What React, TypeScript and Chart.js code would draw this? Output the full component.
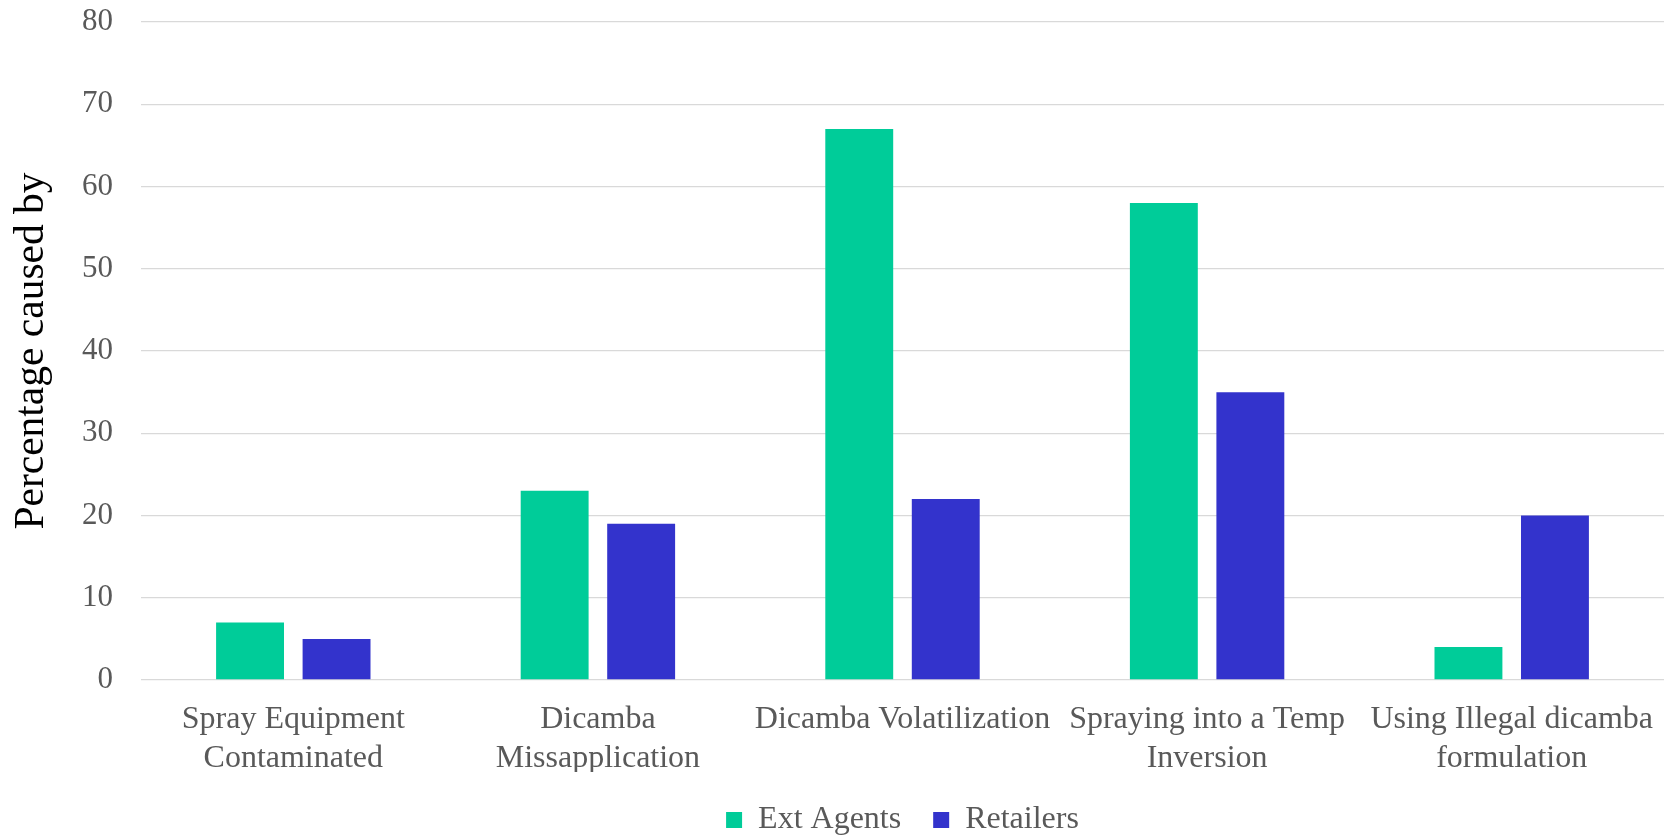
import React, { useEffect, useRef } from "react";
import { Chart, registerables } from "chart.js";

Chart.register(...registerables);

const categories: (string | string[])[] = [
  ["Spray Equipment", "Contaminated"],
  ["Dicamba", "Missapplication"],
  "Dicamba Volatilization",
  ["Spraying into a Temp", "Inversion"],
  ["Using Illegal dicamba", "formulation"],
];
const extAgents = [7, 23, 67, 58, 4];
const retailers = [5, 19, 22, 35, 20];
const seriesNames = ["Ext Agents", "Retailers"];
const seriesColors = ["#00CC99", "#3333CC"];
const yMin = 0;
const yMax = 80;
const yStep = 10;
const yTitle = "Percentage caused by";

export default function App() {
  const ref = useRef<HTMLCanvasElement | null>(null);

  useEffect(() => {
    document.body.style.margin = "0";
    const canvas = ref.current;
    if (!canvas) return;
    const family = "'Liberation Serif', 'Times New Roman', serif";
    const chart = new Chart(canvas, {
      type: "bar",
      data: {
        labels: categories,
        datasets: [
          {
            label: seriesNames[0],
            data: extAgents,
            backgroundColor: seriesColors[0],
            borderWidth: 0,
          },
          {
            label: seriesNames[1],
            data: retailers,
            backgroundColor: seriesColors[1],
            borderWidth: 0,
          },
        ],
      },
      options: {
        animation: false,
        responsive: false,
        maintainAspectRatio: false,
        layout: { padding: { top: 22, left: 0, right: 0, bottom: -10 } },
        datasets: {
          bar: { categoryPercentage: 0.568, barPercentage: 0.785 },
        },
        plugins: {
          tooltip: { enabled: false },
          legend: {
            position: "bottom",
            fullSize: false,
            labels: {
              boxWidth: 16,
              boxHeight: 16,
              padding: 32,
              color: "#595959",
              font: { family, size: 32 },
            },
          },
        },
        scales: {
          x: {
            grid: { display: false },
            border: { display: false },
            afterFit: (scale: any) => {
              scale.height = 92;
              scale.paddingLeft = 0;
              scale.paddingRight = 0;
            },
            ticks: {
              color: "#595959",
              font: { family, size: 32, lineHeight: 1.19 },
              padding: 13,
              maxRotation: 0,
              minRotation: 0,
              autoSkip: false,
            },
          },
          y: {
            min: yMin,
            max: yMax,
            afterFit: (scale: any) => {
              scale.width = 141;
              scale.paddingTop = 0;
              scale.paddingBottom = 0;
            },
            grid: { color: "#D9D9D9", lineWidth: 1.3, drawTicks: false },
            border: { display: false },
            ticks: {
              stepSize: yStep,
              color: "#595959",
              font: { family, size: 31 },
              padding: 28,
            },
            title: {
              display: true,
              text: yTitle,
              color: "#000000",
              font: { family, size: 41.5 },
              padding: { top: 7, bottom: 0 },
            },
          },
        },
      },
    });
    return () => chart.destroy();
  }, []);

  return <canvas ref={ref} width={1664} height={836} style={{ display: "block" }} />;
}
